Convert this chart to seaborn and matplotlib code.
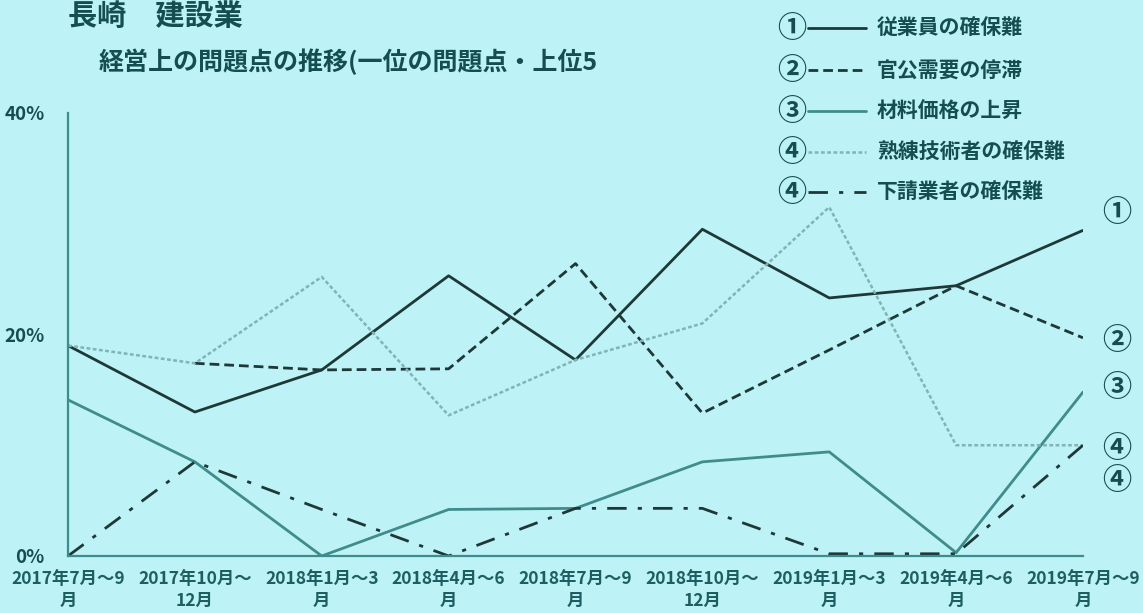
import numpy as np
import pandas as pd
import matplotlib
matplotlib.use("Agg")
import matplotlib.pyplot as plt
from matplotlib.lines import Line2D
import seaborn as sns

# data (percent)
periods = ["2017年7月～9\n月", "2017年10月～\n12月", "2018年1月～3\n月",
           "2018年4月～6\n月", "2018年7月～9\n月", "2018年10月～\n12月",
           "2019年1月～3\n月", "2019年4月～6\n月", "2019年7月～9\n月"]
series_names = ["従業員の確保難", "官公需要の停滞", "材料価格の上昇",
                "熟練技術者の確保難", "下請業者の確保難"]
series_marks = ["①", "②", "③", "④", "④"]
employee = [19.0, 13.0, 16.8, 25.3, 17.7, 29.5, 23.3, 24.4, 29.4]
public_demand = [np.nan, 17.4, 16.8, 16.9, 26.4, 12.9, 18.6, 24.4, 19.7]
material = [14.1, 8.5, 0.0, 4.2, 4.3, 8.5, 9.4, 0.3, 14.8]
skilled = [19.0, 17.4, 25.2, 12.7, 17.7, 21.0, 31.5, 10.0, 10.0]
subcontract = [0.0, 8.5, 4.2, 0.0, 4.3, 4.3, 0.2, 0.2, 10.0]
yticks = [0, 20, 40]
ytick_labels = ["0%", "20%", "40%"]

bg = "#bdf2f6"
text_col = "#154e52"
tick_col = "#1d5e62"
axis_col = "#3d8c8e"

styles = [
    dict(color="#1e3838", lw=2.0, ls="-"),
    dict(color="#1e3838", lw=2.0, ls=(0, (3.5, 1.8))),
    dict(color="#408c8c", lw=2.0, ls="-"),
    dict(color="#80b4b6", lw=1.8, ls=(0, (1.5, 1.0))),
    dict(color="#1e3838", lw=2.0, ls=(0, (7, 4, 1.5, 4))),
]

sns.set_theme(style="white")
plt.rcParams["font.family"] = ["Noto Sans CJK JP", "DejaVu Sans"]
plt.rcParams["font.weight"] = "bold"

fig = plt.figure(figsize=(11.43, 6.13), dpi=100, facecolor=bg)
ax = fig.add_axes([0.0595, 0.093, 0.888, 0.7227], facecolor=bg)

x = np.arange(len(periods))
all_vals = [employee, public_demand, material, skilled, subcontract]
for name, vals, st in zip(series_names, all_vals, styles):
    df = pd.DataFrame({"x": x, "y": vals}).dropna()
    sns.lineplot(data=df, x="x", y="y", ax=ax, color=st["color"],
                 linewidth=st["lw"], linestyle=st["ls"], legend=False)

ax.set_xlim(0, len(periods) - 1)
ax.set_ylim(0, 40)
ax.set_xticks(x)
ax.set_xticklabels(periods, fontsize=12.5, fontweight="bold", color=tick_col,
                   linespacing=1.3)
ax.set_yticks(yticks)
ax.set_yticklabels(ytick_labels, fontsize=13.5, fontweight="bold", color=text_col)
ax.tick_params(axis="x", length=0, pad=10)
ax.tick_params(axis="y", length=0, pad=17)
ax.set_xlabel("")
ax.set_ylabel("")
for s in ["top", "right"]:
    ax.spines[s].set_visible(False)
for s in ["left", "bottom"]:
    ax.spines[s].set_color(axis_col)
    ax.spines[s].set_linewidth(1.6)
ax.grid(False)

W, H = 1143, 613
fig.text(68 / W, 1 - 16 / H, "長崎　建設業", fontsize=21, fontweight="bold",
         color=text_col, va="center", ha="left")
fig.text(99 / W, 1 - 62 / H, "経営上の問題点の推移(一位の問題点・上位5",
         fontsize=18, fontweight="bold", color=text_col, va="center", ha="left")

# legend block, top right
rows_y = [28, 70, 111, 152, 192]
for mark, name, st, ry in zip(series_marks, series_names, styles, rows_y):
    yy = 1 - ry / H
    fig.text(792 / W, yy, mark, fontsize=21, fontweight="bold", color=text_col,
             ha="center", va="center")
    fig.add_artist(Line2D([808 / W, 866 / W], [yy, yy], transform=fig.transFigure,
                          color=st["color"], lw=st["lw"], ls=st["ls"]))
    fig.text(877 / W, yy, name, fontsize=15, fontweight="bold", color=text_col,
             ha="left", va="center")

# markers at line ends
end_y = [212, 340, 387, 448, 480]
for mark, ey in zip(series_marks, end_y):
    fig.text(1117 / W, 1 - ey / H, mark, fontsize=21, fontweight="bold",
             color=text_col, ha="center", va="center")

fig.savefig("out.png", dpi=100, facecolor=bg)
